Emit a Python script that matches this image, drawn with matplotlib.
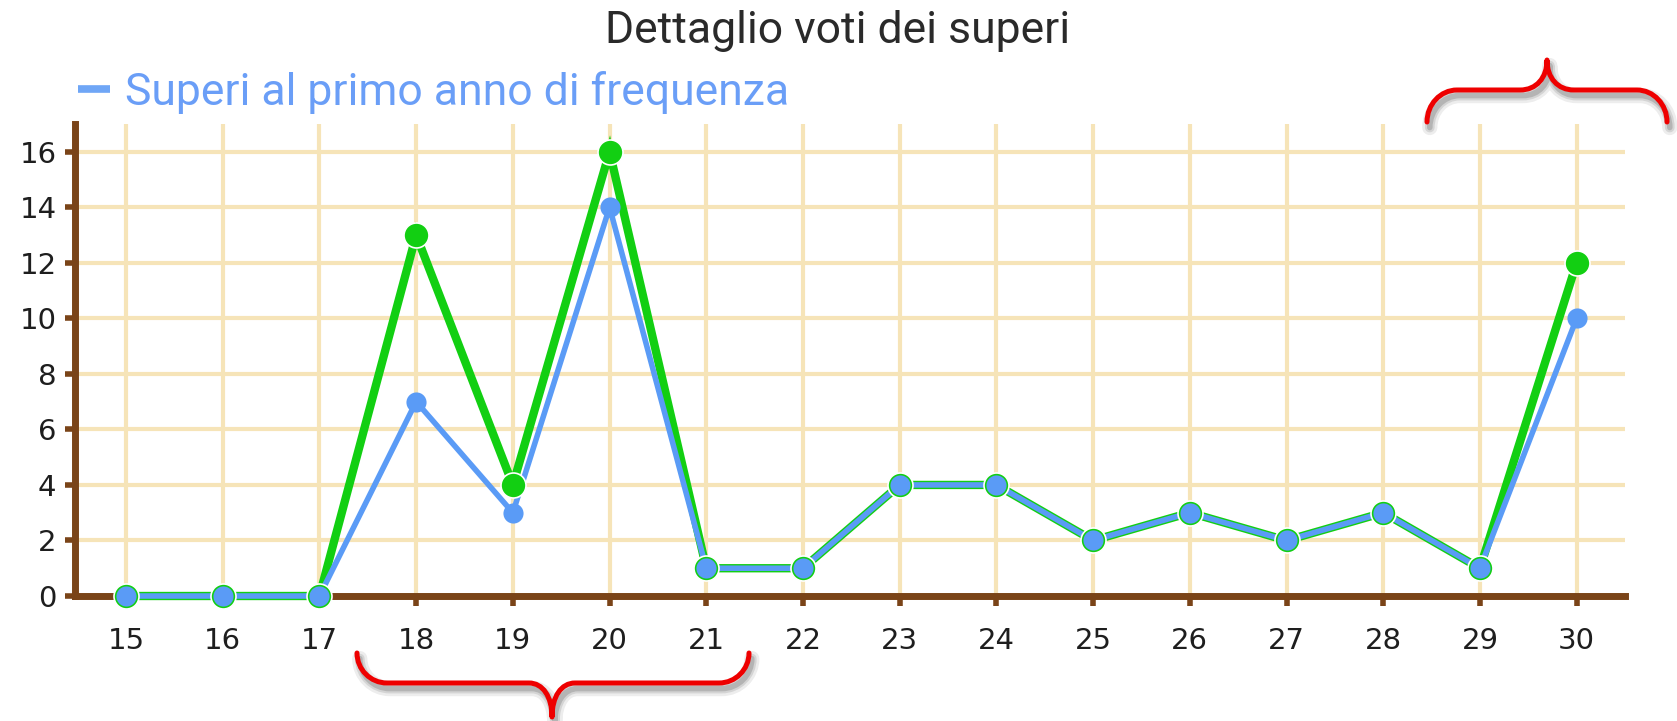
import matplotlib
matplotlib.use("Agg")
import matplotlib.pyplot as plt
from matplotlib.path import Path
from matplotlib.patches import PathPatch
from matplotlib.lines import Line2D
import matplotlib.patheffects as pe

# ---- data ----
voti = [15, 16, 17, 18, 19, 20, 21, 22, 23, 24, 25, 26, 27, 28, 29, 30]
superi_totali = [0, 0, 0, 13, 4, 16, 1, 1, 4, 4, 2, 3, 2, 3, 1, 12]
superi_primo_anno = [0, 0, 0, 7, 3, 14, 1, 1, 4, 4, 2, 3, 2, 3, 1, 10]
y_ticks = [0, 2, 4, 6, 8, 10, 12, 14, 16]
titolo = "Dettaglio voti dei superi"
legenda = "Superi al primo anno di frequenza"

W, H = 1677, 721
GREEN = "#12CF12"
BLUE = "#5A9BF6"
BROWN = "#7A4418"
GRID = "#F6E4B8"

fig = plt.figure(figsize=(W / 100, H / 100), dpi=100)
ax = fig.add_axes([74.5 / W, 1 - 596 / H, (1625 - 74.5) / W, (596 - 124) / H])

ax.set_xlim(14.467, 30.5)
ax.set_ylim(0, 17)
ax.set_xticks(voti)
ax.set_yticks(y_ticks)
ax.grid(True, color=GRID, linewidth=3.0, zorder=0)
ax.set_axisbelow(True)

for s in ["top", "right"]:
    ax.spines[s].set_visible(False)
for s in ["left", "bottom"]:
    ax.spines[s].set_color(BROWN)
    ax.spines[s].set_linewidth(5)

ax.tick_params(axis="both", direction="out", color=BROWN, width=4, length=7,
               labelsize=21, labelcolor="#1e1e1e")
ax.tick_params(axis="x", pad=15)
ax.tick_params(axis="y", pad=6)
for lab in ax.get_xticklabels() + ax.get_yticklabels():
    lab.set_fontfamily("DejaVu Sans")

# green series (totale)
ax.plot(voti, superi_totali, color=GREEN, linewidth=6, zorder=3,
        solid_joinstyle="miter", clip_on=False)
# blue series (primo anno)
ax.plot(voti, superi_primo_anno, color=BLUE, linewidth=4, zorder=4,
        solid_joinstyle="miter", clip_on=False)
ax.plot(voti, superi_totali, linestyle="none", marker="o", markersize=18,
        markerfacecolor=GREEN, markeredgecolor="white", markeredgewidth=1.2,
        zorder=5, clip_on=False)
ax.plot(voti, superi_primo_anno, linestyle="none", marker="o", markersize=14.5,
        markerfacecolor=BLUE, markeredgewidth=0, zorder=6, clip_on=False)

# title
fig.text(837.5 / W, 1 - 43 / H, titolo, ha="center", va="baseline",
         fontsize=32, family="Roboto", color="#2a2a2a")

# legend (only the first-year series)
proxy = Line2D([], [], color="#6FA6F6", linewidth=5.5, solid_capstyle="butt")
fig.legend(handles=[proxy], labels=[legenda], loc="center left",
           bbox_to_anchor=(78 / W, 1 - 92 / H), frameon=False,
           prop={"family": "Roboto", "size": 32}, labelcolor="#6A9EF7",
           handlelength=0.72, handletextpad=0.34, borderpad=0,
           borderaxespad=0)


# ---- red curly braces (annotations) ----
def brace(L, R, C, y_end, y_mid, y_tip, a, b):
    k = 0.55
    def P(x, y):
        return (x / W, 1 - y / H)
    verts = [
        P(L, y_end),
        P(L, y_end - k * (y_end - y_mid)), P(L + a - k * a, y_mid), P(L + a, y_mid),
        P(C - b, y_mid),
        P(C - b + 0.6 * b, y_mid), P(C, y_mid - 0.4 * (y_mid - y_tip)), P(C, y_tip),
        P(C, y_mid - 0.4 * (y_mid - y_tip)), P(C + b - 0.6 * b, y_mid), P(C + b, y_mid),
        P(R - a, y_mid),
        P(R - a + k * a, y_mid), P(R, y_end - k * (y_end - y_mid)), P(R, y_end),
    ]
    codes = [Path.MOVETO,
             Path.CURVE4, Path.CURVE4, Path.CURVE4,
             Path.LINETO,
             Path.CURVE4, Path.CURVE4, Path.CURVE4,
             Path.CURVE4, Path.CURVE4, Path.CURVE4,
             Path.LINETO,
             Path.CURVE4, Path.CURVE4, Path.CURVE4]
    patch = PathPatch(Path(verts, codes), facecolor="none", edgecolor="#EE0000",
                      linewidth=3.6, capstyle="round", joinstyle="round",
                      transform=fig.transFigure, zorder=10)
    patch.set_path_effects([
        pe.SimpleLineShadow(offset=(2, -4), shadow_color="black", alpha=0.07, linewidth=11),
        pe.SimpleLineShadow(offset=(2, -4), shadow_color="black", alpha=0.10, linewidth=7),
        pe.SimpleLineShadow(offset=(2, -4), shadow_color="black", alpha=0.15, linewidth=4),
        pe.Normal(),
    ])
    fig.add_artist(patch)


brace(1427, 1667, 1547, 122, 90, 60, 30, 27)
brace(357, 749, 552, 653, 683, 717, 30, 23)

fig.savefig("out.png", dpi=100)
